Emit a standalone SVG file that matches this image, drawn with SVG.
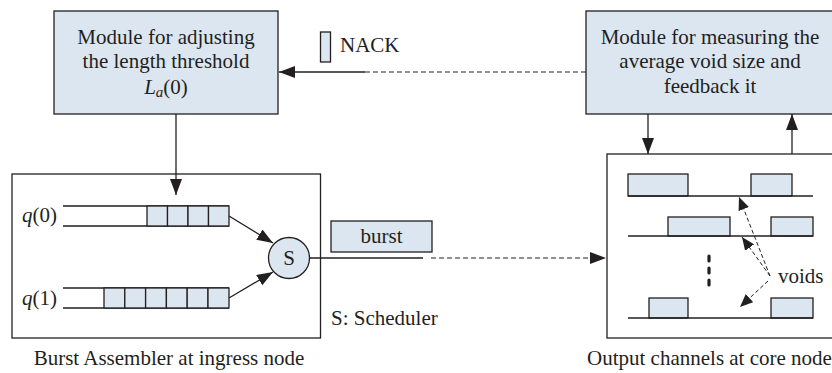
<svg xmlns="http://www.w3.org/2000/svg" width="832" height="373" viewBox="0 0 832 373" font-family="'Liberation Serif', 'Times New Roman', 'DejaVu Serif', serif">
<style>
text{font-family:'Liberation Serif','Times New Roman','DejaVu Serif',serif;font-size:21px;fill:#231f20}
.c{text-anchor:middle}
.box{fill:#dce6f1;stroke:#231f20;stroke-width:1.3}
.frame{fill:#fff;stroke:#231f20;stroke-width:1.3}
.ln{fill:none;stroke:#231f20;stroke-width:1.3}
.dash{fill:none;stroke:#231f20;stroke-width:1.1;stroke-dasharray:5,3}
.vd{fill:none;stroke:#231f20;stroke-width:1;stroke-dasharray:4,2.5}
</style>
<defs>
<marker id="ah" markerUnits="userSpaceOnUse" markerWidth="16" markerHeight="12" refX="16" refY="6" orient="auto">
<path d="M0,0 L16,6 L0,12 z" fill="#231f20"/>
</marker>
<marker id="as" markerUnits="userSpaceOnUse" markerWidth="13" markerHeight="11" refX="13" refY="5.5" orient="auto">
<path d="M0,0 L13,5.5 L0,11 z" fill="#231f20"/>
</marker>
</defs>
<rect width="832" height="373" fill="#fff"/>

<g id="adjust-module">
<rect class="box" x="54" y="11" width="224" height="103"/>
<text class="c" x="166" y="44">Module for adjusting</text>
<text class="c" x="166" y="68">the length threshold</text>
<text class="c" x="166" y="94"><tspan font-style="italic">L</tspan><tspan font-style="italic" font-size="15" dy="3">a</tspan><tspan dy="-3">(0)</tspan></text>
</g>

<g id="measure-module">
<rect class="box" x="586" y="11" width="250" height="103"/>
<text class="c" x="710" y="44">Module for measuring the</text>
<text class="c" x="710" y="68">average void size and</text>
<text class="c" x="710" y="93">feedback it</text>
</g>

<g id="nack">
<rect class="box" x="320.5" y="32" width="10" height="30"/>
<text x="340" y="52">NACK</text>
</g>

<g id="burst-assembler">
<rect class="frame" x="12" y="174" width="308.5" height="164"/>
<text x="57" y="222" text-anchor="end"><tspan font-style="italic">q</tspan>(0)</text>
<text x="57" y="305" text-anchor="end"><tspan font-style="italic">q</tspan>(1)</text>
<path class="ln" d="M63,206 H229 M63,226 H229"/>
<rect class="box" x="147" y="206" width="20.5" height="20"/>
<rect class="box" x="167.5" y="206" width="20.5" height="20"/>
<rect class="box" x="188" y="206" width="20.5" height="20"/>
<rect class="box" x="208.5" y="206" width="20.5" height="20"/>
<path class="ln" d="M63,288 H229 M63,308 H229"/>
<rect class="box" x="104" y="288" width="20.8" height="20"/>
<rect class="box" x="124.8" y="288" width="20.8" height="20"/>
<rect class="box" x="145.6" y="288" width="20.8" height="20"/>
<rect class="box" x="166.4" y="288" width="20.8" height="20"/>
<rect class="box" x="187.2" y="288" width="20.8" height="20"/>
<rect class="box" x="208" y="288" width="21" height="20"/>
<text x="331" y="325">S: Scheduler</text>
<text class="c" x="169" y="365">Burst Assembler at ingress node</text>
</g>

<g id="scheduler">
<circle class="box" cx="289" cy="258" r="20.5"/>
<text class="c" x="289" y="265">S</text>
</g>

<g id="burst">
<rect class="box" x="331" y="221" width="101" height="31"/>
<text class="c" x="381.5" y="243">burst</text>
</g>

<g id="core-node">
<rect class="frame" x="607" y="154" width="240" height="184"/>
<rect class="box" x="628" y="174" width="60" height="22"/>
<rect class="box" x="751" y="174" width="41" height="22"/>
<path class="ln" d="M628,196 H813"/>
<rect class="box" x="668" y="217" width="62" height="19"/>
<rect class="box" x="771" y="217" width="42" height="19"/>
<path class="ln" d="M628,236 H813"/>
<rect class="box" x="649" y="298" width="39" height="20"/>
<rect class="box" x="771" y="298" width="42" height="20"/>
<path class="ln" d="M628,318 H813"/>
<path d="M709,256 V261 M709,268 V273 M709,280 V285" stroke="#231f20" stroke-width="3.2" stroke-linecap="round" fill="none"/>
<path class="vd" d="M770,276 L739,197" marker-end="url(#as)"/>
<path class="vd" d="M770,276 L742,237" marker-end="url(#as)"/>
<path class="vd" d="M768,281 L740,307" marker-end="url(#as)"/>
<text x="778" y="283">voids</text>
<text x="587" y="365">Output channels at core node</text>
</g>

<g id="connectors">
<path class="dash" d="M586,72 H365"/>
<path class="ln" d="M365,72 H279" marker-end="url(#ah)"/>
<path class="ln" d="M176,114 V195" marker-end="url(#ah)"/>
<path class="ln" d="M229,216 L273,243" marker-end="url(#ah)"/>
<path class="ln" d="M229,298 L273,272" marker-end="url(#ah)"/>
<path class="ln" d="M310,258 H423"/>
<path class="dash" d="M431,258 H606" marker-end="url(#ah)"/>
<path class="ln" d="M648,114 V154" marker-end="url(#ah)"/>
<path class="ln" d="M792,154 V114" marker-end="url(#ah)"/>
</g>
</svg>
